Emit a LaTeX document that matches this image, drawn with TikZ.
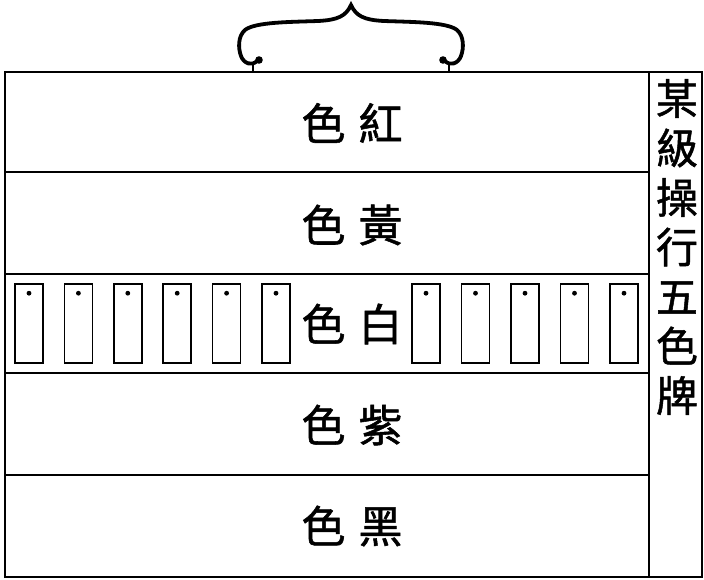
\documentclass[tikz,border=0pt]{standalone}
\usepackage{fontspec}
\newfontfamily\cjk[FakeBold=1.2]{Noto Sans CJK TC}
\usetikzlibrary{positioning}

\begin{document}
\begin{tikzpicture}[
  x=1pt, y=-1pt,
  frame/.style={line width=2.9pt},
  rule/.style={line width=2.1pt},
  tag/.style={draw, line width=1.6pt, minimum width=28pt, minimum height=79pt, inner sep=0pt},
  band/.style={font=\cjk\fontsize{44}{44}\selectfont, inner sep=0pt},
  title/.style={font=\cjk\fontsize{42}{49.5}\selectfont, align=center, inner sep=0pt},
  hanger/.style={line width=3.8pt, line cap=round}
]
  \useasboundingbox (0,0) rectangle (704,579);

  % hanger on top
  \draw[hanger] (257,61) .. controls (252,66) and (244,64) .. (241,56)
    .. controls (238,48) and (238,36) .. (245,30)
    .. controls (255,22) and (290,22) .. (318,21)
    .. controls (338,20) and (346,16) .. (351,5)
    .. controls (356,16) and (364,20) .. (384,21)
    .. controls (412,22) and (447,22) .. (457,30)
    .. controls (464,36) and (464,48) .. (461,56)
    .. controls (458,64) and (450,66) .. (445,61);
  \fill (259,60) circle (3.8pt) (443,60) circle (3.8pt);
  \draw[rule] (253,64) -- (253,72) (449,64) -- (449,72);

  % board
  \draw[frame] (5,72) rectangle (702,577);
  \draw[rule] (649,72) -- (649,577);
  \foreach \y in {172,274,373,475}
    \draw[rule] (5,\y) -- (649,\y);

  % tags in the white band
  \foreach \i in {0,...,5} {
    \node[tag] (tagl\i) at (29+49.4*\i,323.5) {};
    \fill ([yshift=-10pt]tagl\i.north) circle (2.4pt);
  }
  \foreach \i in {0,...,4} {
    \node[tag] (tagr\i) at (426+49.5*\i,323.5) {};
    \fill ([yshift=-10pt]tagr\i.north) circle (2.4pt);
  }

  % band labels
  \node[band] (red) at (352,123) {色\hspace{13pt}紅};
  \node[band] (yellow) at (352,225) {色\hspace{13pt}黃};
  \node[band] (white) at (352,324) {色\hspace{13pt}白};
  \node[band] (purple) at (352,425) {色\hspace{13pt}紫};
  \node[band] (black) at (352,526) {色\hspace{13pt}黑};

  % side title
  \node[title] (title) at (677,247) {某\\級\\操\\行\\五\\色\\牌};
\end{tikzpicture}
\end{document}
